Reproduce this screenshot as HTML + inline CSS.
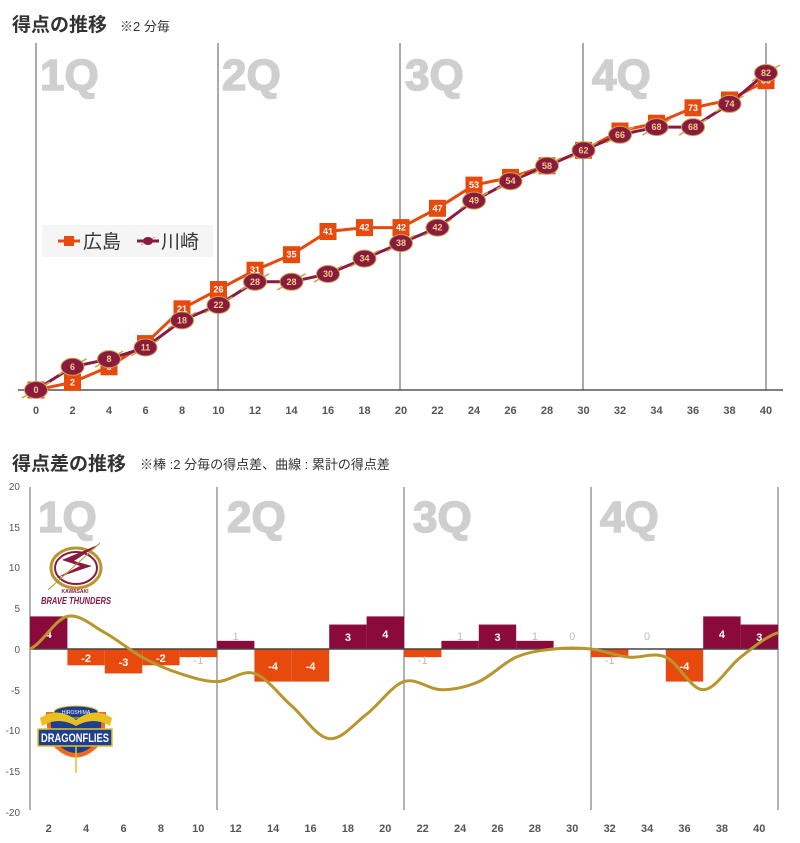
<!DOCTYPE html>
<html><head><meta charset="utf-8"><style>
body{margin:0;background:#fff;}
svg{display:block;font-family:"Liberation Sans Narrow","Liberation Sans","Noto Sans CJK JP",sans-serif;}
.t{font-family:"Liberation Sans","Noto Sans CJK JP",sans-serif;fill:#333;}
.q{font-family:"Liberation Sans",sans-serif;font-weight:bold;font-size:44px;fill:#cfcfcf;stroke:#cfcfcf;stroke-width:1.5;}
.ax{font-size:11px;font-weight:bold;fill:#555;text-anchor:middle;}
.ya{font-size:10px;fill:#555;text-anchor:end;}
.hs{font-size:9px;font-weight:bold;fill:#fff;text-anchor:middle;}
.ks{font-size:9px;font-weight:bold;fill:#f0d080;text-anchor:middle;}
.bl{font-size:11px;font-weight:bold;fill:#fff;text-anchor:middle;}
.gl{font-size:11px;fill:#bbb;text-anchor:middle;}
</style></head><body>
<svg width="800" height="843" viewBox="0 0 800 843" xmlns="http://www.w3.org/2000/svg">
<defs>
<rect id="sq" x="-8.5" y="-8.5" width="17" height="17" fill="#e84a0e"/>
<g id="el"><line x1="-14" y1="8" x2="14" y2="-8" stroke="#c9a24a" stroke-width="1.5"/><ellipse rx="11.5" ry="8.5" fill="#8b1a40" stroke="#c9a24a" stroke-width="1"/></g>
</defs>
<text class="t" x="12" y="31" font-size="19" font-weight="bold">得点の推移</text>
<text class="t" x="120" y="31" font-size="13">※2 分毎</text>
<g stroke="#555" stroke-width="1">
<line x1="36" y1="43" x2="36" y2="390"/><line x1="218" y1="43" x2="218" y2="390"/><line x1="400" y1="43" x2="400" y2="390"/><line x1="583" y1="43" x2="583" y2="390"/><line x1="766" y1="43" x2="766" y2="390"/>
</g>
<line x1="18" y1="390" x2="783" y2="390" stroke="#555" stroke-width="1.5"/>
<text class="q" x="40" y="90">1Q</text><text class="q" x="222" y="90">2Q</text><text class="q" x="405" y="90">3Q</text><text class="q" x="592" y="90">4Q</text>
<g class="ax">
<text x="36" y="414">0</text><text x="72.5" y="414">2</text><text x="109" y="414">4</text><text x="145.5" y="414">6</text><text x="182" y="414">8</text><text x="218.5" y="414">10</text><text x="255" y="414">12</text><text x="291.5" y="414">14</text><text x="328" y="414">16</text><text x="364.5" y="414">18</text><text x="401" y="414">20</text><text x="437.5" y="414">22</text><text x="474" y="414">24</text><text x="510.5" y="414">26</text><text x="547" y="414">28</text><text x="583.5" y="414">30</text><text x="620" y="414">32</text><text x="656.5" y="414">34</text><text x="693" y="414">36</text><text x="729.5" y="414">38</text><text x="766" y="414">40</text>
</g>
<rect x="42" y="225" width="171" height="32" fill="#f5f5f5"/>
<line x1="58" y1="241" x2="80" y2="241" stroke="#e84a0e" stroke-width="3"/><rect x="64" y="236" width="10" height="10" fill="#e84a0e"/>
<text class="t" x="83" y="248" font-size="19">広島</text>
<line x1="137" y1="241" x2="159" y2="241" stroke="#8b1a40" stroke-width="3"/><line x1="141" y1="245" x2="155" y2="237" stroke="#c9a24a"/><ellipse cx="148" cy="241" rx="5" ry="4" fill="#8b1a40"/>
<text class="t" x="161" y="248" font-size="19">川崎</text>
<polyline fill="none" stroke="#e84a0e" stroke-width="3" points="36,390 72.5,382.3 109,366.8 145.5,343.6 182,308.8 218.5,289.5 255,270.2 291.5,254.7 328,231.5 364.5,227.6 401,227.6 437.5,208.3 474,185.1 510.5,177.4 547,165.8 583.5,150.3 620,131 656.5,123.2 693,107.8 729.5,100 766,80.7"/>
<polyline fill="none" stroke="#8b1a40" stroke-width="3" points="36,390 72.5,366.8 109,359.1 145.5,347.5 182,320.4 218.5,305 255,281.8 291.5,281.8 328,274 364.5,258.6 401,243.1 437.5,227.6 474,200.6 510.5,181.2 547,165.8 583.5,150.3 620,134.8 656.5,127.1 693,127.1 729.5,103.9 766,73"/>
<g>
<g transform="translate(36,390)"><use href="#sq"/><text class="hs" y="3">0</text></g>
<g transform="translate(72.5,382.3)"><use href="#sq"/><text class="hs" y="3">2</text></g>
<g transform="translate(109,366.8)"><use href="#sq"/><text class="hs" y="3">6</text></g>
<g transform="translate(145.5,343.6)"><use href="#sq"/><text class="hs" y="3">12</text></g>
<g transform="translate(182,308.8)"><use href="#sq"/><text class="hs" y="3">21</text></g>
<g transform="translate(218.5,289.5)"><use href="#sq"/><text class="hs" y="3">26</text></g>
<g transform="translate(255,270.2)"><use href="#sq"/><text class="hs" y="3">31</text></g>
<g transform="translate(291.5,254.7)"><use href="#sq"/><text class="hs" y="3">35</text></g>
<g transform="translate(328,231.5)"><use href="#sq"/><text class="hs" y="3">41</text></g>
<g transform="translate(364.5,227.6)"><use href="#sq"/><text class="hs" y="3">42</text></g>
<g transform="translate(401,227.6)"><use href="#sq"/><text class="hs" y="3">42</text></g>
<g transform="translate(437.5,208.3)"><use href="#sq"/><text class="hs" y="3">47</text></g>
<g transform="translate(474,185.1)"><use href="#sq"/><text class="hs" y="3">53</text></g>
<g transform="translate(510.5,177.4)"><use href="#sq"/><text class="hs" y="3">55</text></g>
<g transform="translate(547,165.8)"><use href="#sq"/><text class="hs" y="3">58</text></g>
<g transform="translate(583.5,150.3)"><use href="#sq"/><text class="hs" y="3">62</text></g>
<g transform="translate(620,131)"><use href="#sq"/><text class="hs" y="3">67</text></g>
<g transform="translate(656.5,123.2)"><use href="#sq"/><text class="hs" y="3">69</text></g>
<g transform="translate(693,107.8)"><use href="#sq"/><text class="hs" y="3">73</text></g>
<g transform="translate(729.5,100)"><use href="#sq"/><text class="hs" y="3">75</text></g>
<g transform="translate(766,80.7)"><use href="#sq"/><text class="hs" y="3">80</text></g>
</g>
<g>
<g transform="translate(36,390)"><use href="#el"/><text class="ks" y="3">0</text></g>
<g transform="translate(72.5,366.8)"><use href="#el"/><text class="ks" y="3">6</text></g>
<g transform="translate(109,359.1)"><use href="#el"/><text class="ks" y="3">8</text></g>
<g transform="translate(145.5,347.5)"><use href="#el"/><text class="ks" y="3">11</text></g>
<g transform="translate(182,320.4)"><use href="#el"/><text class="ks" y="3">18</text></g>
<g transform="translate(218.5,305)"><use href="#el"/><text class="ks" y="3">22</text></g>
<g transform="translate(255,281.8)"><use href="#el"/><text class="ks" y="3">28</text></g>
<g transform="translate(291.5,281.8)"><use href="#el"/><text class="ks" y="3">28</text></g>
<g transform="translate(328,274)"><use href="#el"/><text class="ks" y="3">30</text></g>
<g transform="translate(364.5,258.6)"><use href="#el"/><text class="ks" y="3">34</text></g>
<g transform="translate(401,243.1)"><use href="#el"/><text class="ks" y="3">38</text></g>
<g transform="translate(437.5,227.6)"><use href="#el"/><text class="ks" y="3">42</text></g>
<g transform="translate(474,200.6)"><use href="#el"/><text class="ks" y="3">49</text></g>
<g transform="translate(510.5,181.2)"><use href="#el"/><text class="ks" y="3">54</text></g>
<g transform="translate(547,165.8)"><use href="#el"/><text class="ks" y="3">58</text></g>
<g transform="translate(583.5,150.3)"><use href="#el"/><text class="ks" y="3">62</text></g>
<g transform="translate(620,134.8)"><use href="#el"/><text class="ks" y="3">66</text></g>
<g transform="translate(656.5,127.1)"><use href="#el"/><text class="ks" y="3">68</text></g>
<g transform="translate(693,127.1)"><use href="#el"/><text class="ks" y="3">68</text></g>
<g transform="translate(729.5,103.9)"><use href="#el"/><text class="ks" y="3">74</text></g>
<g transform="translate(766,73)"><use href="#el"/><text class="ks" y="3">82</text></g>
</g>

<text class="t" x="12" y="470" font-size="19" font-weight="bold">得点差の推移</text>
<text class="t" x="140" y="469" font-size="13">※棒 :2 分毎の得点差、曲線 : 累計の得点差</text>
<g stroke="#999" stroke-width="1.5">
<line x1="30" y1="487" x2="30" y2="810"/><line x1="217" y1="487" x2="217" y2="810"/><line x1="404" y1="487" x2="404" y2="810"/><line x1="591" y1="487" x2="591" y2="810"/><line x1="778" y1="487" x2="778" y2="810"/>
</g>
<text class="q" x="38" y="532">1Q</text><text class="q" x="227" y="532">2Q</text><text class="q" x="413" y="532">3Q</text><text class="q" x="600" y="532">4Q</text>
<g class="ya">
<text x="20" y="490">20</text><text x="20" y="531">15</text><text x="20" y="571">10</text><text x="20" y="612">5</text><text x="20" y="653">0</text><text x="20" y="694">-5</text><text x="20" y="734">-10</text><text x="20" y="775">-15</text><text x="20" y="816">-20</text>
</g>
<g>
<ellipse cx="76" cy="568" rx="25" ry="20" fill="none" stroke="#b8962e" stroke-width="3"/>
<ellipse cx="76" cy="568" rx="21" ry="16" fill="none" stroke="#8b1a40" stroke-width="2"/>
<polygon points="100,544 62,560 80,566 56,578 92,566 74,561" fill="#8b1a40"/>
<line x1="48" y1="590" x2="100" y2="543" stroke="#b8962e" stroke-width="1"/>
<text x="75" y="593" font-size="5" fill="#8b1a40" text-anchor="middle" font-weight="bold">KAWASAKI</text>
<text x="41" y="604" font-size="10" fill="#8b1a40" font-weight="bold" font-style="italic" textLength="70" lengthAdjust="spacingAndGlyphs">BRAVE THUNDERS</text>
</g>
<g>
<path d="M46,712 L106,712 L104,740 Q76,775 48,740 Z" fill="#f06a20"/>
<path d="M50,714 L102,714 L100,738 Q76,768 52,738 Z" fill="#1d3f8f"/>
<ellipse cx="76" cy="712" rx="22" ry="6" fill="#1d3f8f" stroke="#e8c020"/>
<path d="M40,718 Q58,706 76,720 Q94,706 112,718 L110,726 Q94,716 76,726 Q58,716 42,726 Z" fill="#e8c020"/>
<rect x="38" y="729" width="74" height="17" fill="#1d3f8f" stroke="#e8c020" stroke-width="1.5"/>
<text x="41" y="742" font-size="12" fill="#fff" font-weight="bold" textLength="68" lengthAdjust="spacingAndGlyphs">DRAGONFLIES</text>
<text x="76" y="714" font-size="5" fill="#fff" text-anchor="middle">HIROSHIMA</text>
<line x1="76" y1="746" x2="76" y2="773" stroke="#e8c020" stroke-width="1.5"/>
</g>
<g>
<rect x="30" y="616.4" width="37.4" height="32.6" fill="#8b0a3c"/>
<rect x="67.4" y="649" width="37.4" height="16.3" fill="#e84a0e"/>
<rect x="104.8" y="649" width="37.4" height="24.45" fill="#e84a0e"/>
<rect x="142.2" y="649" width="37.4" height="16.3" fill="#e84a0e"/>
<rect x="179.6" y="649" width="37.4" height="8.15" fill="#e84a0e"/>
<rect x="217" y="640.85" width="37.4" height="8.15" fill="#8b0a3c"/>
<rect x="254.4" y="649" width="37.4" height="32.6" fill="#e84a0e"/>
<rect x="291.8" y="649" width="37.4" height="32.6" fill="#e84a0e"/>
<rect x="329.2" y="624.55" width="37.4" height="24.45" fill="#8b0a3c"/>
<rect x="366.6" y="616.4" width="37.4" height="32.6" fill="#8b0a3c"/>
<rect x="404" y="649" width="37.4" height="8.15" fill="#e84a0e"/>
<rect x="441.4" y="640.85" width="37.4" height="8.15" fill="#8b0a3c"/>
<rect x="478.8" y="624.55" width="37.4" height="24.45" fill="#8b0a3c"/>
<rect x="516.2" y="640.85" width="37.4" height="8.15" fill="#8b0a3c"/>
<rect x="591" y="649" width="37.4" height="8.15" fill="#e84a0e"/>
<rect x="665.8" y="649" width="37.4" height="32.6" fill="#e84a0e"/>
<rect x="703.2" y="616.4" width="37.4" height="32.6" fill="#8b0a3c"/>
<rect x="740.6" y="624.55" width="37.4" height="24.45" fill="#8b0a3c"/>
</g>
<line x1="30" y1="649" x2="778" y2="649" stroke="#444" stroke-width="1.5"/>
<g class="bl">
<text x="48.7" y="638">4</text><text x="86.1" y="662">-2</text><text x="123.5" y="666">-3</text><text x="160.9" y="662">-2</text>
<text x="273.1" y="670">-4</text><text x="310.5" y="670">-4</text><text x="347.9" y="641">3</text><text x="385.3" y="638">4</text>
<text x="497.5" y="641">3</text><text x="684.5" y="670">-4</text><text x="721.9" y="638">4</text><text x="759.3" y="641">3</text>
</g>
<g class="gl">
<text x="198.3" y="664">-1</text><text x="235.7" y="640">1</text><text x="422.7" y="664">-1</text><text x="460.1" y="640">1</text><text x="534.9" y="640">1</text><text x="572.3" y="640">0</text><text x="609.7" y="664">-1</text><text x="647.1" y="640">0</text>
</g>
<path fill="none" stroke="#b8962e" stroke-width="3" d="M30,649 C42.47,643.57 54.93,619.12 67.4,616.4 C79.87,613.68 92.33,625.91 104.8,632.7 C117.27,639.49 129.73,650.36 142.2,657.15 C154.67,663.94 167.13,669.37 179.6,673.45 C192.07,677.53 204.53,681.6 217,681.6 C229.47,681.6 241.93,669.37 254.4,673.45 C266.87,677.53 279.33,695.18 291.8,706.05 C304.27,716.92 316.73,737.29 329.2,738.65 C341.67,740.01 354.13,723.71 366.6,714.2 C379.07,704.69 391.53,685.68 404,681.6 C416.47,677.52 428.93,689.75 441.4,689.75 C453.87,689.75 466.33,687.03 478.8,681.6 C491.27,676.17 503.73,662.58 516.2,657.15 C528.67,651.72 541.13,650.36 553.6,649 C566.07,647.64 578.53,647.64 591,649 C603.47,650.36 615.93,655.79 628.4,657.15 C640.87,658.51 653.33,651.72 665.8,657.15 C678.27,662.58 690.73,689.75 703.2,689.75 C715.67,689.75 728.13,666.66 740.6,657.15 C753.07,647.64 765.53,636.78 778,632.7"/>
<g class="ax">
<text x="48.7" y="832">2</text><text x="86.1" y="832">4</text><text x="123.5" y="832">6</text><text x="160.9" y="832">8</text><text x="198.3" y="832">10</text><text x="235.7" y="832">12</text><text x="273.1" y="832">14</text><text x="310.5" y="832">16</text><text x="347.9" y="832">18</text><text x="385.3" y="832">20</text><text x="422.7" y="832">22</text><text x="460.1" y="832">24</text><text x="497.5" y="832">26</text><text x="534.9" y="832">28</text><text x="572.3" y="832">30</text><text x="609.7" y="832">32</text><text x="647.1" y="832">34</text><text x="684.5" y="832">36</text><text x="721.9" y="832">38</text><text x="759.3" y="832">40</text>
</g>
</svg>
</body></html>
